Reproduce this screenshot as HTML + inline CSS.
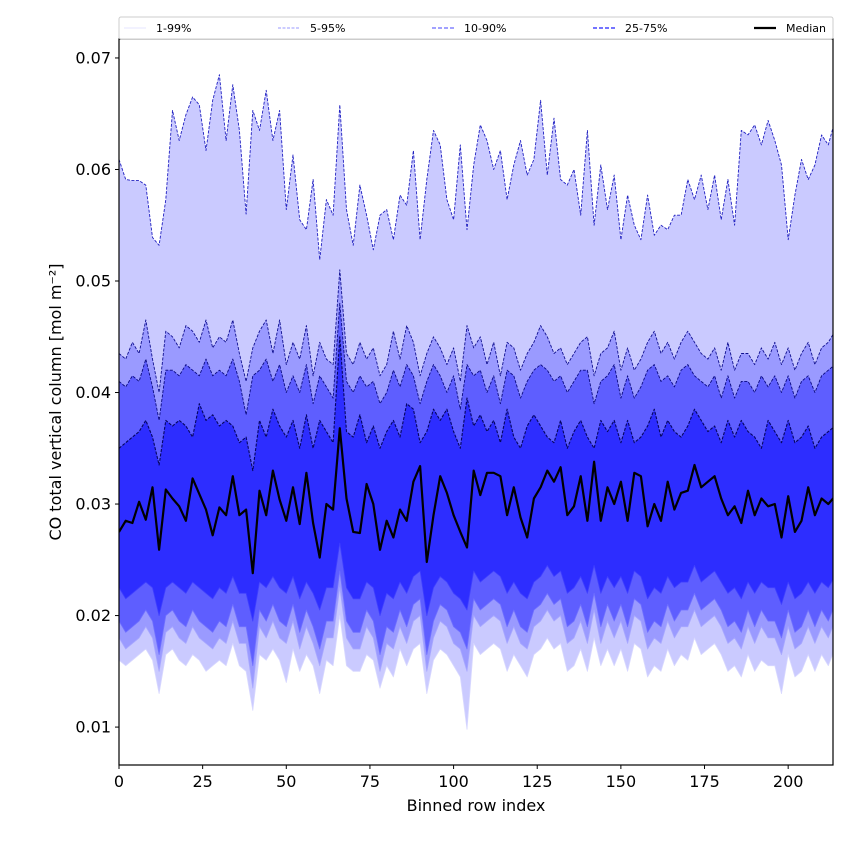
<!DOCTYPE html>
<html><head><meta charset="utf-8">
<style>
html,body{margin:0;padding:0;background:#fff;}
svg{display:block;font-family:"DejaVu Sans","Liberation Sans",sans-serif;}
</style></head>
<body>
<svg id="chart" width="850" height="850" viewBox="0 0 850 850"></svg>
<script>
// values in 1e-3 mol m^-2, x index = 0,2,4,...,214
const xIndex = [];
for (let i = 0; i <= 214; i += 2) xIndex.push(i);
const p99 = [60.9,59.1,59.0,59.0,58.6,53.9,53.2,57.3,65.3,62.6,64.9,66.5,65.8,61.7,66.2,68.5,62.6,67.6,63.5,56.0,65.3,63.5,67.1,62.6,65.3,56.4,61.3,55.5,54.6,59.1,51.9,57.3,55.9,65.8,56.4,53.2,58.6,55.9,52.8,55.9,56.4,53.7,57.7,56.8,61.7,53.7,59.1,63.5,62.2,57.3,55.5,62.2,54.6,60.4,64.0,62.6,60.0,61.7,57.3,60.4,62.6,59.5,60.9,66.2,59.5,64.6,59.1,58.6,60.0,55.9,63.5,55.0,60.4,56.4,59.5,53.7,57.7,55.0,53.7,57.7,54.1,55.0,54.6,55.9,55.9,59.1,57.3,59.5,56.4,59.5,55.5,59.1,55.0,63.5,63.1,64.0,62.2,64.4,62.6,60.4,53.7,57.7,60.9,59.1,60.4,63.1,62.2,64.4];
const p95 = [43.5,43.0,44.5,43.5,46.5,43.0,40.0,45.5,45.0,44.0,46.0,45.5,44.5,46.5,44.0,45.0,44.5,46.5,43.5,41.0,44.0,45.5,46.5,43.5,46.5,42.5,44.5,43.0,46.0,41.5,44.5,43.0,42.5,51.0,43.5,42.5,44.5,43.0,44.0,41.5,42.5,45.5,43.0,46.0,44.5,41.5,43.5,45.0,44.0,42.5,44.0,41.0,46.0,44.0,45.0,42.5,44.5,41.5,44.5,44.0,42.0,43.5,44.5,46.0,45.0,43.5,44.0,42.5,43.5,44.5,45.0,41.5,43.5,44.0,45.5,42.0,44.0,42.0,43.0,44.5,45.5,43.5,44.5,43.0,44.5,45.5,44.5,43.5,43.0,44.0,42.0,44.5,42.0,43.5,43.5,42.5,44.0,43.0,44.5,42.5,44.0,42.0,43.5,44.5,42.5,44.0,44.5,45.5];
const p90 = [41.0,40.5,41.5,41.0,43.0,40.5,37.5,42.0,42.0,41.5,42.5,42.0,41.5,43.0,41.5,42.0,41.5,43.0,41.0,38.0,41.5,42.0,43.0,41.0,42.5,40.0,41.5,40.0,42.5,39.0,41.5,40.5,39.5,48.0,41.0,40.0,41.5,40.5,41.0,39.0,40.0,42.0,40.5,42.5,41.5,39.0,41.0,42.5,41.5,40.0,41.5,38.5,42.5,41.5,42.0,40.0,41.5,39.0,42.0,41.5,39.5,41.0,42.0,42.5,42.0,41.0,41.5,40.0,41.0,42.0,42.0,39.0,41.0,41.5,42.5,39.5,41.5,39.5,40.5,42.0,42.5,41.0,41.5,40.5,42.0,42.5,41.5,41.0,40.5,41.5,39.5,41.5,39.5,41.0,41.0,40.0,41.5,40.5,41.5,40.0,41.5,39.5,41.0,41.5,40.0,41.5,42.0,42.5];
const p75 = [35.0,35.5,36.0,36.5,37.5,36.0,33.5,37.5,37.0,37.5,37.0,36.0,39.0,37.5,38.0,37.0,37.5,37.0,35.5,36.0,33.0,37.5,36.0,38.5,37.0,36.0,37.5,35.0,38.0,35.0,37.5,36.5,35.5,45.0,36.5,36.0,38.0,35.5,37.0,35.0,36.5,37.5,36.0,39.0,38.5,35.5,36.5,38.5,37.5,38.5,36.5,35.0,39.5,37.0,38.0,36.5,37.5,35.5,38.5,36.0,35.0,37.0,38.0,37.0,36.0,35.5,37.5,35.0,36.5,37.5,36.0,35.0,37.5,36.5,37.5,35.5,37.5,35.5,36.0,37.0,38.5,36.0,37.5,36.5,36.0,37.0,38.5,37.5,36.5,37.0,35.5,37.5,36.0,37.5,36.5,36.0,35.0,37.5,36.5,35.5,37.5,35.5,36.0,37.0,35.0,36.0,36.5,37.0];
const p50 = [27.5,28.5,28.3,30.2,28.6,31.5,25.9,31.3,30.5,29.8,28.5,32.3,30.9,29.5,27.2,29.7,29.0,32.5,29.0,29.5,23.8,31.2,29.0,33.0,30.4,28.5,31.5,28.2,32.8,28.3,25.2,30.0,29.5,36.8,30.5,27.5,27.4,31.8,30.0,25.9,28.5,27.0,29.5,28.5,32.0,33.4,24.8,29.0,32.5,31.0,29.0,27.5,26.1,33.0,30.8,32.8,32.8,32.5,29.0,31.5,28.8,27.0,30.5,31.5,33.0,32.0,33.3,29.0,29.8,32.5,28.5,33.8,28.5,31.5,30.0,32.0,28.5,32.8,32.5,28.0,30.0,28.5,32.0,29.5,31.0,31.2,33.5,31.5,32.0,32.5,30.5,29.0,29.8,28.3,31.2,29.0,30.5,29.8,30.0,27.0,30.7,27.5,28.5,31.5,29.0,30.5,30.0,30.7];
const p25 = [22.5,21.5,22.0,22.5,23.0,22.5,20.0,22.5,23.0,22.5,22.0,23.0,22.5,22.0,21.5,22.5,22.0,23.5,22.0,22.0,19.5,23.0,22.5,23.5,22.5,22.0,23.5,21.5,23.0,22.0,20.5,22.5,22.5,26.5,22.5,21.5,21.5,23.0,22.5,20.0,22.0,21.5,23.0,22.0,23.5,24.0,20.0,22.5,23.5,23.0,22.0,21.5,20.5,24.0,23.0,23.5,24.0,23.5,22.0,23.0,22.0,21.5,23.0,23.5,24.5,23.5,24.0,22.0,22.5,23.5,22.0,24.5,22.0,23.5,22.5,23.5,22.0,24.0,23.5,21.5,22.5,22.0,23.5,22.5,23.0,23.0,24.5,23.0,23.5,24.0,23.0,22.0,22.5,21.5,23.0,22.0,23.0,22.5,22.5,21.0,23.0,21.5,22.0,23.0,22.0,23.0,22.5,23.5];
const p10 = [19.5,18.5,19.0,19.5,20.5,19.5,16.5,20.0,20.5,19.5,19.0,20.5,19.5,19.0,18.5,19.5,19.0,21.0,19.0,19.0,15.5,20.5,19.5,21.0,19.5,19.0,21.0,18.5,20.5,19.0,17.0,19.5,19.5,24.0,19.5,18.5,18.5,20.5,19.5,16.5,19.0,18.5,20.5,19.0,21.0,21.5,16.5,19.5,21.0,20.5,19.0,18.5,17.0,21.5,20.5,21.0,21.5,21.0,19.0,20.5,19.0,18.5,20.5,21.0,22.0,21.0,21.5,19.0,19.5,21.0,19.0,22.0,19.0,21.0,19.5,21.0,19.0,21.5,21.0,18.5,19.5,19.0,21.0,19.5,20.5,20.5,22.0,20.5,21.0,21.5,20.5,19.0,19.5,18.5,20.5,19.0,20.5,19.5,19.5,18.0,20.5,18.5,19.0,20.5,19.0,20.5,19.5,21.0];
const p5 = [18.0,17.0,17.5,18.0,19.0,18.0,15.0,18.5,19.0,18.0,17.5,19.0,18.0,17.5,17.0,18.0,17.5,19.5,17.5,17.5,13.5,19.0,18.0,19.5,18.0,17.5,19.5,17.0,19.0,17.5,15.5,18.0,18.0,22.5,18.0,17.0,17.0,19.0,18.0,15.0,17.5,17.0,19.0,17.5,19.5,20.0,15.0,18.0,19.5,19.0,17.5,17.0,15.0,20.0,19.0,19.5,20.0,19.5,17.5,19.0,17.5,17.0,19.0,19.5,20.5,19.5,20.0,17.5,18.0,19.5,17.5,20.5,17.5,19.5,18.0,19.5,17.5,20.0,19.5,17.0,18.0,17.5,19.5,18.0,19.0,19.0,20.5,19.0,19.5,20.0,19.0,17.5,18.0,17.0,19.0,17.5,19.0,18.0,18.0,16.5,19.0,17.0,17.5,19.0,17.5,19.0,18.0,19.5];
const p1 = [16.0,15.5,16.0,16.5,17.0,16.0,13.0,16.5,17.0,16.0,15.5,16.5,16.0,15.0,15.5,16.0,15.5,17.5,15.5,15.0,11.5,16.5,16.0,17.0,16.0,14.0,17.0,15.0,16.5,15.5,13.0,16.0,15.5,20.0,15.5,15.0,15.0,16.5,16.0,13.5,15.5,14.5,17.0,15.5,17.0,17.5,13.0,16.0,17.0,16.5,15.5,14.5,9.8,17.5,16.5,17.0,17.5,17.0,15.0,16.5,15.5,14.5,16.5,17.0,18.0,17.0,17.5,15.0,15.5,17.0,15.0,18.0,15.5,17.0,15.5,17.0,15.0,17.5,17.0,14.5,15.5,15.0,17.0,15.5,16.5,16.0,18.0,16.5,17.0,17.5,16.5,15.0,15.5,14.5,16.5,15.0,16.0,15.5,15.5,13.0,16.5,14.5,15.0,16.5,15.0,16.5,15.5,17.0];
const yTicks = [10,20,30,40,50,60,70];
const yTickLabels = ["0.01","0.02","0.03","0.04","0.05","0.06","0.07"];
const xTicks = [0,25,50,75,100,125,150,175,200];

const L=119, R=833, T=39, B=765;
const xMin=0, xMax=213.4, yMin=6.6, yMax=71.7;
const sx = v => L + (v - xMin) / (xMax - xMin) * (R - L);
const sy = v => B - (v - yMin) / (yMax - yMin) * (B - T);
const NS="http://www.w3.org/2000/svg";
const svg=document.getElementById('chart');
function mk(tag, attrs, parent){const e=document.createElementNS(NS,tag);for(const k in attrs)e.setAttribute(k,attrs[k]);(parent||svg).appendChild(e);return e;}

const clip=mk('clipPath',{id:'pc'});mk('rect',{x:L,y:T,width:R-L,height:B-T},clip);
const plot=mk('g',{'clip-path':'url(#pc)'});



function pts(arr){return arr.map((v,i)=>sx(xIndex[i]).toFixed(1)+','+sy(v).toFixed(1));}
function band(up, lo, fill, name){
  const p=pts(up).concat(pts(lo).reverse()).join(' ');
  const e=mk('polygon',{points:p,fill:fill,stroke:'none'},plot);
  
  
}
function line(arr, stroke, w, dash, name){
  const e=mk('polyline',{points:pts(arr).join(' '),fill:'none',stroke:stroke,'stroke-width':w,'stroke-dasharray':dash||'none','stroke-linejoin':'round'},plot);
  
  
}
band(p99,p1,'#cacaff','band-1-99');
band(p95,p5,'#9a9aff','band-5-95');
band(p90,p10,'#5e5eff','band-10-90');
band(p75,p25,'#2d2dff','band-25-75');
line(p1,'#d8d8ff',0.8,'','line-p1');
line(p5,'#a8a8ff',0.8,'','line-p5');
line(p10,'#7070ff',0.8,'','line-p10');
line(p25,'#4040ff',0.8,'','line-p25');
line(p99,'#2020c0',0.9,'3,1.5','line-p99');
line(p95,'#101090',0.9,'3,1.5','line-p95');
line(p90,'#0a0a80',0.9,'3,1.5','line-p90');
line(p75,'#050560',1.1,'3,1.5','line-p75');
line(p50,'#000',2.2,'','median-line');

const fr=mk('rect',{x:L,y:T,width:R-L,height:B-T,fill:'none',stroke:'#000','stroke-width':1.2});



yTicks.forEach((v,i)=>{
  const y=sy(v);
  const t=mk('line',{x1:L-4,x2:L,y1:y,y2:y,stroke:'#000','stroke-width':1});
  
  
  const tx=mk('text',{x:L-8,y:y+5.5,'text-anchor':'end','font-size':16,fill:'#000'});
  tx.textContent=yTickLabels[i];
  
  
});
xTicks.forEach(v=>{
  const x=sx(v);
  const t=mk('line',{x1:x,x2:x,y1:B,y2:B+4,stroke:'#000','stroke-width':1});
  
  
  const tx=mk('text',{x:x,y:B+22,'text-anchor':'middle','font-size':16,fill:'#000'});
  tx.textContent=String(v);
  
  
});
const xl=mk('text',{x:(L+R)/2,y:811,'text-anchor':'middle','font-size':16,fill:'#000'});
xl.textContent='Binned row index';


const yl=mk('text',{x:0,y:0,'text-anchor':'middle','font-size':16,fill:'#000',transform:'translate(61,402) rotate(-90)'});
yl.textContent='CO total vertical column [mol m⁻²]';



const lg=mk('g',{});


mk('rect',{x:119,y:17,width:714,height:22,rx:2,fill:'#fff',stroke:'#ccc','stroke-width':1},lg);
const legLabels=['1-99%','5-95%','10-90%','25-75%','Median'];
const legX=[124,278,432,593,754];
const legCol=['#dcdcff','#9a9aff','#6a6aff','#6060ff','#000'];
const legW=[0.8,1,1.3,1.8,2.2];
const legDash=['','3,1.5','4,2','4,2',''];
legLabels.forEach((lab,i)=>{
  const g=mk('g',{},lg);
  
  
  mk('line',{x1:legX[i],x2:legX[i]+22,y1:28,y2:28,stroke:legCol[i],'stroke-width':legW[i],'stroke-dasharray':legDash[i]||'none'},g);
  const t=mk('text',{x:legX[i]+32,y:32,'font-size':11,fill:'#000'},g);
  t.textContent=lab;
});
</script>
</body></html>
